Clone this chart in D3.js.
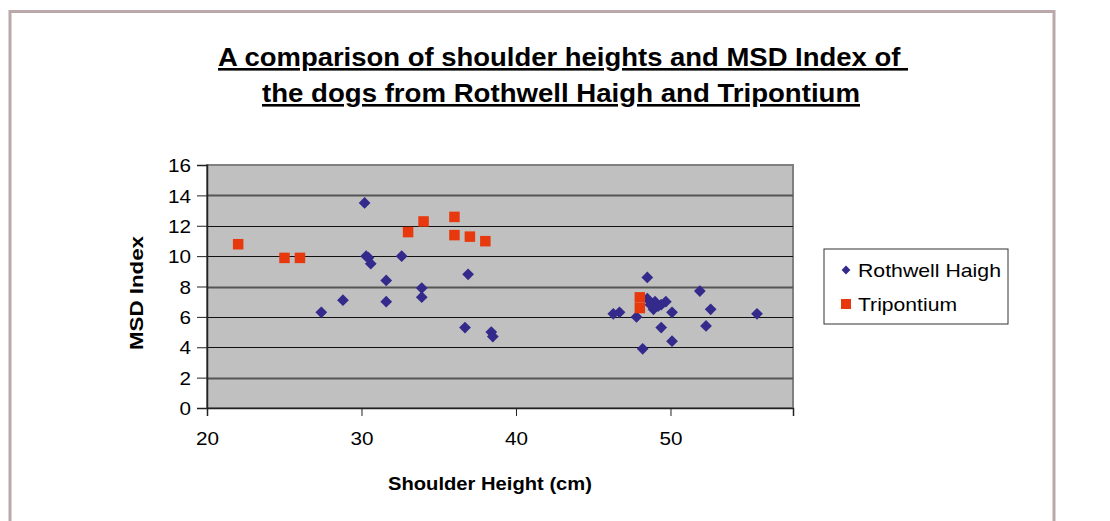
<!DOCTYPE html>
<html lang="en">
    <head>
        <meta charset="utf-8">
        <title>Shoulder heights and MSD Index</title>
        <script type="text/javascript" src="https://d3js.org/d3.v7.min.js"></script>
        <style>
            body { margin: 0; background: #ffffff; }
            text { font-family: "Liberation Sans", Arial, sans-serif; fill: #000; }
        </style>
    </head>
    <body>
        <script>
        // Rothwell Haigh: shoulder height (cm) and MSD index
        const rothwellX = [30.2, 30.3, 30.45, 30.6, 31.6, 31.6, 32.6, 33.9, 33.9, 36.9, 36.7, 38.4, 38.5, 27.4, 28.8,
                           48.5, 51.9, 46.3, 46.7, 47.8, 48.2, 48.5, 49.0, 49.7, 49.4, 48.9, 48.7, 49.2, 50.1, 52.6, 49.4, 52.3, 50.1, 55.6];
        const rothwellY = [13.5, 10.0, 9.9, 9.5, 8.4, 7.0, 10.0, 7.9, 7.3, 8.8, 5.3, 5.0, 4.7, 6.3, 7.1,
                           8.6, 7.7, 6.2, 6.3, 6.0, 3.9, 7.2, 7.0, 7.0, 6.8, 6.5, 6.8, 6.7, 6.3, 6.5, 5.3, 5.4, 4.4, 6.2];

        // Tripontium
        const tripX = [22, 25, 26, 33, 34, 36, 36, 37, 38, 48, 48];
        const tripY = [10.8, 9.9, 9.9, 11.6, 12.3, 12.6, 11.4, 11.3, 11.0, 7.3, 6.6];

        const seriesNames = ["Rothwell Haigh", "Tripontium"];
        const xTicks = [20, 30, 40, 50];
        const yTicks = [0, 2, 4, 6, 8, 10, 12, 14, 16];

        const W = 1110, H = 521;
        const plot = {left: 207, top: 165, right: 793, bottom: 408};

        const svg = d3.select("body").append("svg")
            .attr("width", W)
            .attr("height", H);

        // outer chart frame
        svg.append("path")
            .attr("d", `M10,${H + 5} V11.5 H1054 V${H + 5}`)
            .attr("fill", "none")
            .attr("stroke", "#bba8aa")
            .attr("stroke-width", 3);

        const x = d3.scaleLinear().domain([20, 57.93]).range([plot.left, plot.right]);
        const y = d3.scaleLinear().domain([0, 16]).range([plot.bottom, plot.top]);

        // plot background
        svg.append("rect")
            .attr("x", plot.left).attr("y", plot.top)
            .attr("width", plot.right - plot.left)
            .attr("height", plot.bottom - plot.top)
            .attr("fill", "#c0c0c0")
            .attr("stroke", "#808080")
            .attr("stroke-width", 2);

        // gridlines
        svg.append("g")
            .selectAll("line")
            .data(yTicks.filter(d => d > 0 && d < 16))
            .join("line")
            .attr("x1", plot.left).attr("x2", plot.right)
            .attr("y1", d => Math.round(y(d)) + 0.5)
            .attr("y2", d => Math.round(y(d)) + 0.5)
            .attr("stroke", (d, i) => i % 3 === 0 ? "#555" : "#111")
            .attr("stroke-width", (d, i) => i % 3 === 0 ? 2 : 1.2);

        // axes
        const xAxis = svg.append("g")
            .attr("transform", `translate(0,${plot.bottom})`)
            .call(d3.axisBottom(x).tickValues(xTicks).tickSize(8).tickPadding(20));
        const yAxis = svg.append("g")
            .attr("transform", `translate(${plot.left},0)`)
            .call(d3.axisLeft(y).tickValues(yTicks).tickSize(10).tickPadding(6));

        [xAxis, yAxis].forEach(a => {
            a.select(".domain").attr("stroke", "#222").attr("stroke-width", 1.5);
            a.selectAll(".tick line").attr("stroke", "#222");
            a.selectAll(".tick text")
                .attr("font-family", "Liberation Sans, Arial, sans-serif")
                .attr("font-size", "18.5px")
                .attr("fill", "#000")
                .attr("textLength", d => String(d).length * 11.5)
                .attr("lengthAdjust", "spacingAndGlyphs");
        });
        xAxis.selectAll(".tick text").attr("dy", "0.5em");
        yAxis.selectAll(".tick text").attr("dy", "0.36em");

        const blue = "#332a8c", red = "#e8380e";
        const diamond = d3.symbol().type(d3.symbolDiamond2).size(88);

        // Rothwell Haigh diamonds
        svg.append("g")
            .selectAll("path")
            .data(d3.zip(rothwellX, rothwellY))
            .join("path")
            .attr("d", diamond)
            .attr("transform", d => `translate(${x(d[0])},${y(d[1])})`)
            .attr("fill", blue);

        // Tripontium squares
        svg.append("g")
            .selectAll("rect")
            .data(d3.zip(tripX, tripY))
            .join("rect")
            .attr("x", d => x(d[0]) - 5)
            .attr("y", d => y(d[1]) - 5)
            .attr("width", 10.5)
            .attr("height", 10.5)
            .attr("fill", red);

        // Title
        const title = svg.append("text")
            .attr("text-anchor", "middle")
            .attr("font-size", "26px")
            .attr("font-weight", 700)
            .attr("text-decoration", "underline");
        title.append("tspan").attr("x", 563).attr("y", 66)
            .attr("textLength", 690).attr("lengthAdjust", "spacingAndGlyphs")
            .text("A comparison of shoulder heights and MSD Index of\u00a0");
        title.append("tspan").attr("x", 561).attr("y", 102)
            .attr("textLength", 598).attr("lengthAdjust", "spacingAndGlyphs")
            .text("the dogs from Rothwell Haigh and Tripontium");

        // axis titles
        svg.append("text")
            .attr("x", 490).attr("y", 490)
            .attr("text-anchor", "middle")
            .attr("font-size", "19px")
            .attr("font-weight", 700)
            .attr("textLength", 204).attr("lengthAdjust", "spacingAndGlyphs")
            .text("Shoulder Height (cm)");

        svg.append("text")
            .attr("transform", "translate(143,293) rotate(-90)")
            .attr("text-anchor", "middle")
            .attr("font-size", "19px")
            .attr("font-weight", 700)
            .attr("textLength", 114).attr("lengthAdjust", "spacingAndGlyphs")
            .text("MSD Index");

        // Legend
        const legend = svg.append("g").attr("transform", "translate(824,249)");
        legend.append("rect")
            .attr("width", 184).attr("height", 75)
            .attr("fill", "#fff")
            .attr("stroke", "#333")
            .attr("stroke-width", 1);

        const labelWidths = [143, 99];
        const items = legend.selectAll("g.item")
            .data(seriesNames)
            .join("g")
            .attr("class", "item")
            .attr("transform", (d, i) => `translate(22,${21 + i * 34})`);

        items.filter((d, i) => i === 0).append("path")
            .attr("d", d3.symbol().type(d3.symbolDiamond2).size(50))
            .attr("fill", blue);
        items.filter((d, i) => i === 1).append("rect")
            .attr("x", -5).attr("y", -5).attr("width", 10).attr("height", 10)
            .attr("fill", red);

        items.append("text")
            .attr("x", 12)
            .attr("y", 7)
            .attr("font-size", "19px")
            .attr("textLength", (d, i) => labelWidths[i])
            .attr("lengthAdjust", "spacingAndGlyphs")
            .text(d => d);
        </script>
    </body>
</html>
